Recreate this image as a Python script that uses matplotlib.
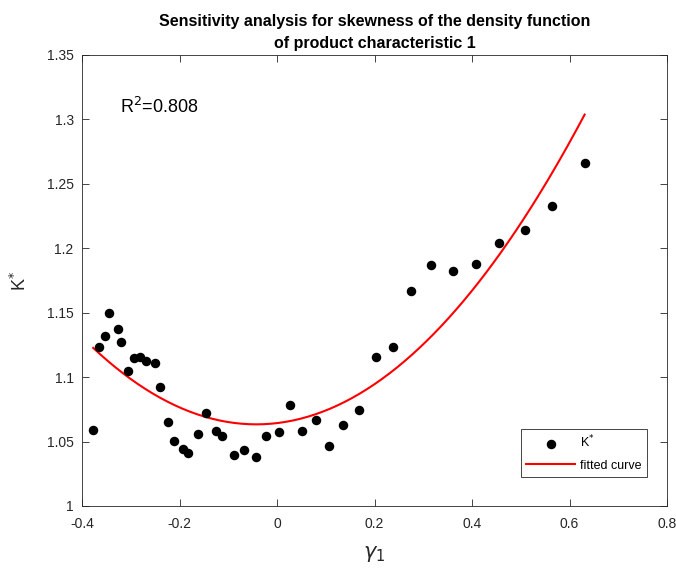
import numpy as np
import matplotlib
matplotlib.use('Agg')
import matplotlib.pyplot as plt

plt.rcParams['font.family'] = ['Liberation Sans', 'DejaVu Sans']

# gamma_1 values and K* values
gamma1 = [-0.377, -0.365, -0.352, -0.345, -0.327, -0.320, -0.305, -0.294, -0.280,
          -0.268, -0.250, -0.239, -0.224, -0.211, -0.192, -0.182, -0.163, -0.145,
          -0.126, -0.112, -0.088, -0.067, -0.044, -0.022, 0.004, 0.027, 0.052,
          0.079, 0.107, 0.136, 0.168, 0.2025, 0.237, 0.274, 0.316, 0.360, 0.408,
          0.456, 0.508, 0.565, 0.631]
k_star = [1.0592, 1.1237, 1.1322, 1.1498, 1.1377, 1.1273, 1.1050, 1.1151, 1.1155,
          1.1126, 1.1110, 1.0922, 1.0650, 1.0507, 1.0445, 1.0414, 1.0557, 1.0720,
          1.0585, 1.0546, 1.0398, 1.0435, 1.0380, 1.0546, 1.0575, 1.0782, 1.0582,
          1.0668, 1.0466, 1.0631, 1.0745, 1.1155, 1.1237, 1.1667, 1.1871, 1.1825, 1.1881,
          1.2040, 1.2143, 1.2329, 1.2665]

xticks = [-0.4, -0.2, 0, 0.2, 0.4, 0.6, 0.8]
xticklabels = ['-0.4', '-0.2', '0', '0.2', '0.4', '0.6', '0.8']
yticks = [1, 1.05, 1.1, 1.15, 1.2, 1.25, 1.3, 1.35]
yticklabels = ['1', '1.05', '1.1', '1.15', '1.2', '1.25', '1.3', '1.35']

# quadratic fit, as in the original figure
coef = np.polyfit(gamma1, k_star, 2)
xf = np.linspace(min(gamma1), max(gamma1), 200)
yf = np.polyval(coef, xf)

fig = plt.figure(figsize=(6.76, 5.72), dpi=100)
ax = fig.add_axes([0.1213, 0.1154, 0.8654, 0.7885])

ax.scatter(gamma1, k_star, s=34, color='k', zorder=3, label='K$^{*}$')
ax.plot(xf, yf, color='red', lw=1.5, label='fitted curve')

ax.set_xlim(-0.4, 0.8)
ax.set_ylim(1, 1.35)
ax.set_xticks(xticks)
ax.set_xticklabels(xticklabels)
ax.set_yticks(yticks)
ax.set_yticklabels(yticklabels)
ax.tick_params(direction='in', top=True, right=True, length=5, width=0.6,
               labelsize=10, colors='#262626')
ax.tick_params(axis='x', pad=8)
ax.tick_params(axis='y', pad=6)
for sp in ax.spines.values():
    sp.set_linewidth(0.6)
    sp.set_color('#262626')

ax.set_xlabel(r'$\gamma_1$', fontsize=15, color='#262626', labelpad=9)
ax.set_ylabel('K$^{*}$', fontsize=13, color='#262626', labelpad=12)
ax.set_title('Sensitivity analysis for skewness of the density function\n'
             'of product characteristic 1', fontsize=11.5, fontweight='bold',
             pad=5, linespacing=1.6)

ax.text(-0.322, 1.305, 'R$^{2}$=0.808', fontsize=13)

leg = ax.legend(loc='lower right', bbox_to_anchor=(0.966, 0.064), borderaxespad=0,
                fontsize=9, frameon=True, fancybox=False, edgecolor='#262626',
                framealpha=1, handlelength=3.9, handletextpad=0.4,
                borderpad=0.45, labelspacing=0.7)
leg.get_frame().set_linewidth(0.6)

fig.savefig('out.png', dpi=100)
